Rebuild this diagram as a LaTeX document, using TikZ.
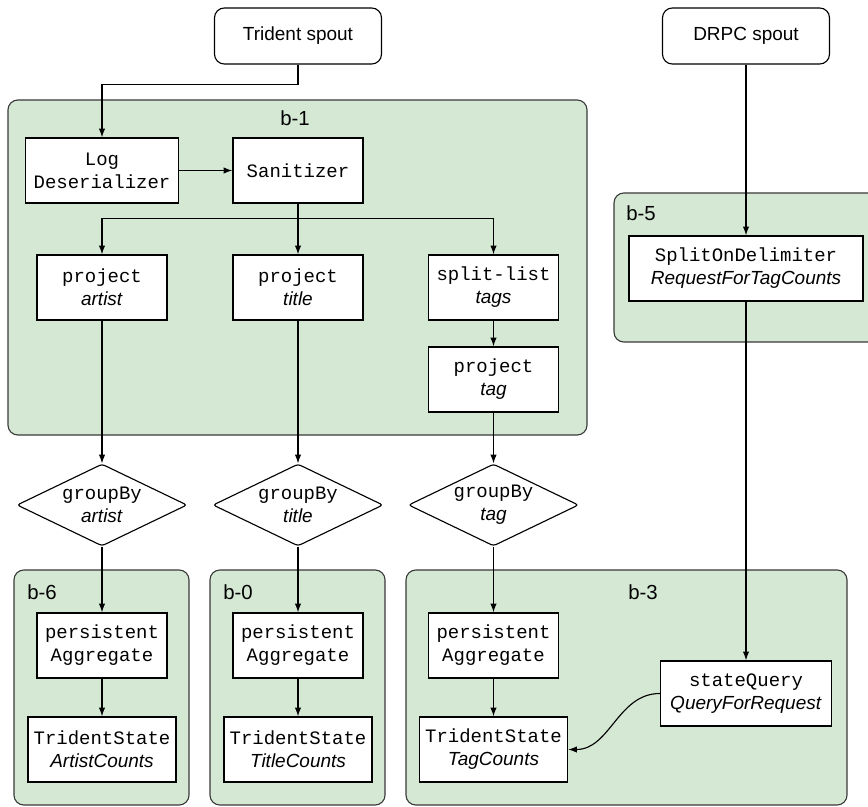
\documentclass[tikz,border=0pt]{standalone}
\usepackage{fontspec}
\setmainfont{Liberation Sans}
\setmonofont{Liberation Mono}
\usetikzlibrary{positioning,arrows.meta,shapes.geometric}
\definecolor{grpfill}{HTML}{D5E8D4}
\definecolor{grpline}{HTML}{3A3A3A}
\newcommand{\opname}[2]{\texttt{#1}\\\textit{#2}}

\begin{document}
\begin{tikzpicture}[x=0.025cm,y=-0.025cm,>={Latex[length=2.2mm,width=1.6mm]},font=\fontsize{13.5}{16.4}\selectfont,
  spout/.style={draw,rounded corners=7pt,fill=white,minimum width=4.175cm,minimum height=1.4cm,line width=0.8pt},
  op/.style={draw,fill=white,align=center,minimum width=3.25cm,minimum height=1.625cm,inner sep=2pt,line width=0.9pt},
  gate/.style={draw,fill=white,diamond,aspect=2.1,align=center,minimum width=4.25cm,minimum height=2.05cm,inner sep=0pt,rounded corners=2pt,line width=0.8pt},
  grp/.style={draw=grpline,fill=grpfill,rounded corners=7pt,line width=0.8pt},
  grplabel/.style={font=\fontsize{14.5}{17}\selectfont,inner sep=0pt},
  flow/.style={->,line width=0.8pt}]
\useasboundingbox (0,0) rectangle (868,807);
\clip (0,0) rectangle (868,807);
\fill[white] (0,0) rectangle (868,807);

\draw[grp] (8,100) rectangle (587,435);
\draw[grp] (614,193) rectangle (885,342);
\draw[grp] (14,570) rectangle (189,805);
\draw[grp] (210,570) rectangle (385,805);
\draw[grp] (406,570) rectangle (847,805);
\node[grplabel] (b1lbl) at (295,118) {b-1};
\node[grplabel,anchor=west] (b5lbl) at (626,213) {b-5};
\node[grplabel,anchor=west] (b6lbl) at (27,592) {b-6};
\node[grplabel,anchor=west] (b0lbl) at (223,592) {b-0};
\node[grplabel] (b3lbl) at (643,592) {b-3};

\node[spout] (tspout) at (298,36) {Trident spout};
\node[spout] (dspout) at (746,36) {DRPC spout};
\node[op,minimum width=3.825cm] (logdes) at (102,170.5) {\texttt{Log}\\\texttt{Deserializer}};
\node[op] (sanit) at (298,170.5) {\texttt{Sanitizer}};
\node[op] (partist) at (102,287.5) {\opname{project}{artist}};
\node[op] (ptitle) at (298,287.5) {\opname{project}{title}};
\node[op] (plist) at (493.5,287.5) {\opname{split-list}{tags}};
\node[op] (ptag) at (493.5,379.5) {\opname{project}{tag}};
\node[gate] (gartist) at (102,505) {\opname{groupBy}{artist}};
\node[gate] (gtitle) at (298,505) {\opname{groupBy}{title}};
\node[gate] (gtag) at (493.5,505) {\opname{groupBy}{tag}};
\node[op] (pagg6) at (102,645.5) {\texttt{persistent}\\\texttt{Aggregate}};
\node[op] (pagg0) at (298,645.5) {\texttt{persistent}\\\texttt{Aggregate}};
\node[op] (pagg3) at (493.5,645.5) {\texttt{persistent}\\\texttt{Aggregate}};
\node[op,minimum width=3.7cm] (ts6) at (102,749.5) {\opname{TridentState}{ArtistCounts}};
\node[op,minimum width=3.7cm] (ts0) at (298,749.5) {\opname{TridentState}{TitleCounts}};
\node[op,minimum width=3.7cm] (ts3) at (493.5,749.5) {\opname{TridentState}{TagCounts}};
\node[op,minimum width=5.85cm] (sdelim) at (746,268.5) {\opname{SplitOnDelimiter}{RequestForTagCounts}};
\node[op,minimum width=4.275cm] (squery) at (746,693.5) {\opname{stateQuery}{QueryForRequest}};

\draw[flow] (tspout.south) -- ++(0,20) -| (logdes.north);
\draw[flow] (logdes) -- (sanit);
\path (sanit.south) ++(0,15) coordinate (fork);
\draw[flow] (sanit) -- (ptitle);
\draw[flow] (fork) -| (partist.north);
\draw[flow] (fork) -| (plist.north);
\draw[flow] (plist) -- (ptag);
\draw[flow] (partist) -- (gartist);
\draw[flow] (ptitle) -- (gtitle);
\draw[flow] (ptag) -- (gtag);
\draw[flow] (gartist) -- (pagg6);
\draw[flow] (gtitle) -- (pagg0);
\draw[flow] (gtag) -- (pagg3);
\draw[flow] (pagg6) -- (ts6);
\draw[flow] (pagg0) -- (ts0);
\draw[flow] (pagg3) -- (ts3);
\draw[flow] (dspout) -- (sdelim);
\draw[flow] (sdelim) -- (squery);
\draw[flow] (squery.west) to[out=180,in=0] (ts3.east);
\end{tikzpicture}
\end{document}
